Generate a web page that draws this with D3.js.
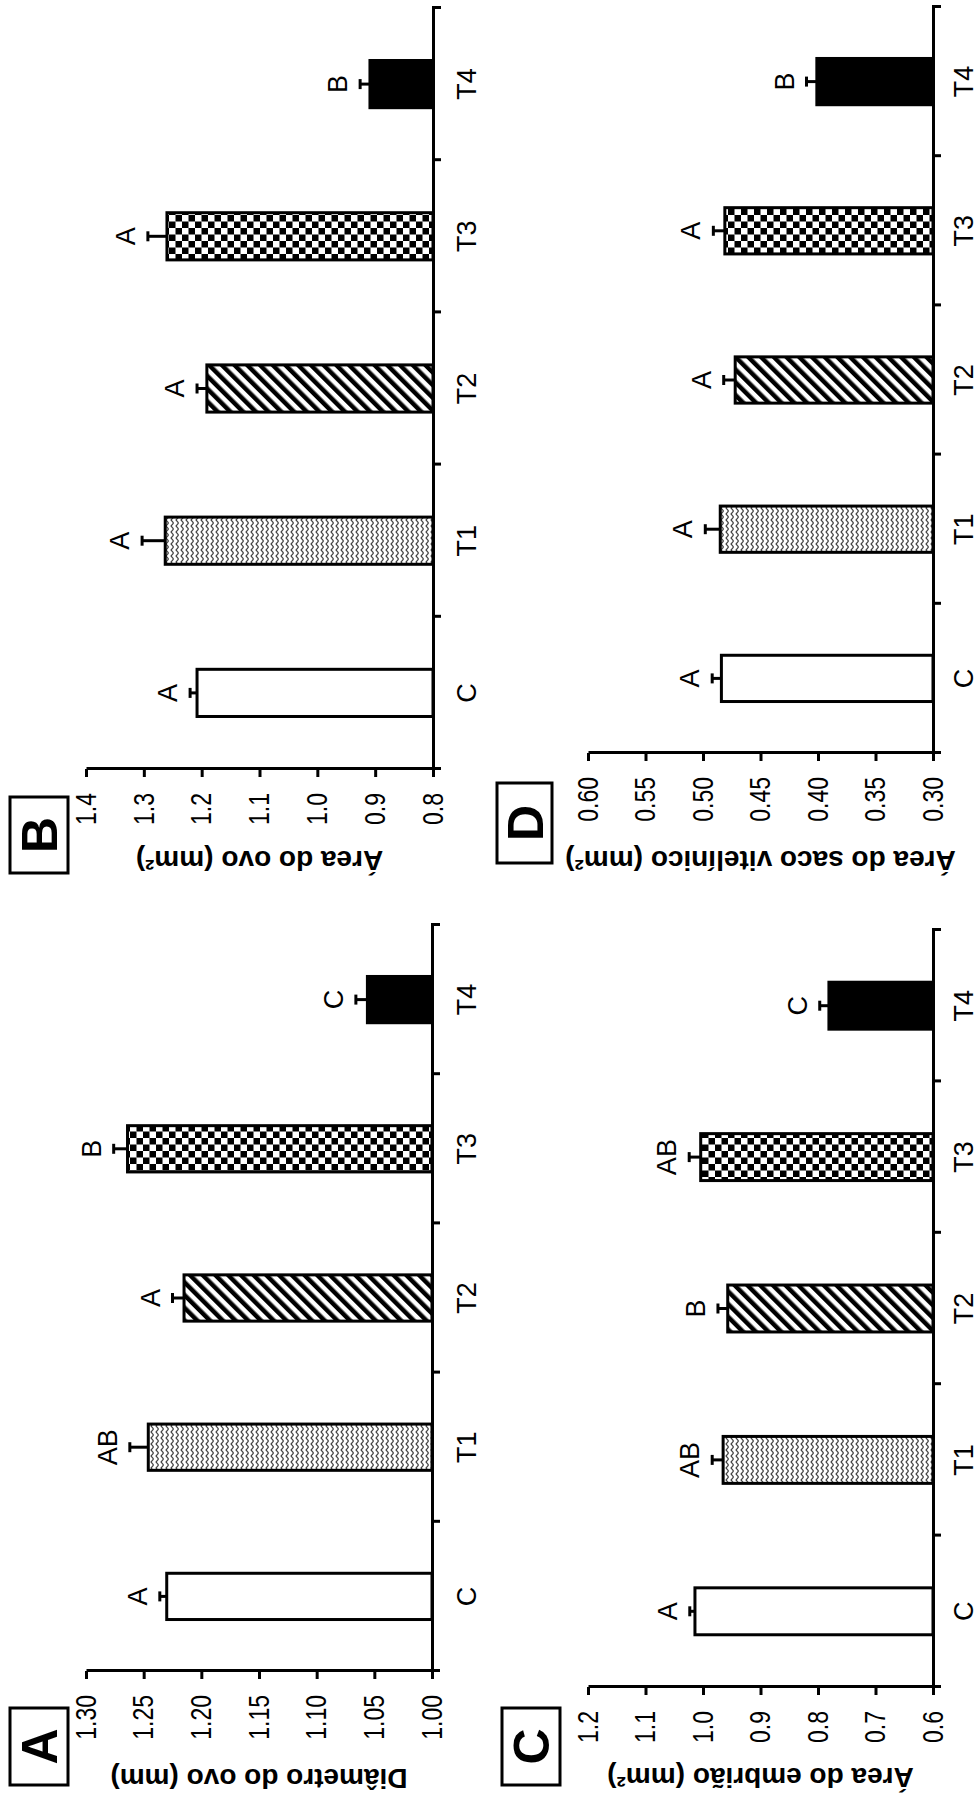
<!doctype html>
<head>
    <meta charset="utf-8">
    <title>Ovo, embrião e saco vitelínico</title>
    <script src="https://d3js.org/d3.v7.min.js"></script>
    <style>
        body {margin:0; background:#fff;}
        svg {display:block;}
        text {font-family:"Liberation Sans", Arial, Helvetica, sans-serif; fill:#000;}
        .axis path, .axis line {stroke:#000; stroke-width:3px;}
        .axis text {font-size:23px;}
        .title {font-size:28px; font-weight:bold;}
        .letter {font-size:27px;}
        .cat {font-size:27px;}
        .panel-id {font-size:50px; font-weight:bold;}
    </style>
</head>
<body>
    <script>
        "use strict";
        // data
        var categories = ["C", "T1", "T2", "T3", "T4"];

        var diametroMean = [1.230, 1.246, 1.215, 1.264, 1.056];
        var diametroSe = [0.006, 0.016, 0.010, 0.012, 0.010];
        var diametroLetters = ["A", "AB", "A", "B", "C"];
        var diametroTicks = [1.00, 1.05, 1.10, 1.15, 1.20, 1.25, 1.30];

        var ovoMean = [1.208, 1.263, 1.191, 1.260, 0.909];
        var ovoSe = [0.012, 0.040, 0.017, 0.033, 0.017];
        var ovoLetters = ["A", "A", "A", "A", "B"];
        var ovoTicks = [0.8, 0.9, 1.0, 1.1, 1.2, 1.3, 1.4];

        var embriaoMean = [1.014, 0.965, 0.957, 1.004, 0.781];
        var embriaoSe = [0.009, 0.019, 0.017, 0.020, 0.016];
        var embriaoLetters = ["A", "AB", "B", "AB", "C"];
        var embriaoTicks = [0.6, 0.7, 0.8, 0.9, 1.0, 1.1, 1.2];

        var sacoMean = [0.484, 0.485, 0.472, 0.481, 0.401];
        var sacoSe = [0.008, 0.013, 0.010, 0.010, 0.009];
        var sacoLetters = ["A", "A", "A", "A", "B"];
        var sacoTicks = [0.30, 0.35, 0.40, 0.45, 0.50, 0.55, 0.60];

        var fills = ["#fff", "url(#zig)", "url(#hatch)", "url(#check)", "#000"];

        // the whole figure is drawn landscape and then turned a quarter left
        var W = 1801, H = 980;
        var svg = d3.select("body").append("svg")
            .attr("width", H)
            .attr("height", W);

        var defs = svg.append("defs");

        var zig = defs.append("pattern").attr("id", "zig")
            .attr("patternUnits", "userSpaceOnUse").attr("width", 6).attr("height", 5);
        zig.append("rect").attr("width", 6).attr("height", 5).attr("fill", "#fff");
        zig.append("path").attr("d", "M0,3.5 L3,1 L6,3.5")
            .attr("fill", "none").attr("stroke", "#444").attr("stroke-width", 1.3);

        var hatch = defs.append("pattern").attr("id", "hatch")
            .attr("patternUnits", "userSpaceOnUse").attr("width", 9).attr("height", 9)
            .attr("patternTransform", "rotate(45)");
        hatch.append("rect").attr("width", 9).attr("height", 9).attr("fill", "#fff");
        hatch.append("rect").attr("width", 4.5).attr("height", 9).attr("fill", "#000");

        var check = defs.append("pattern").attr("id", "check")
            .attr("patternUnits", "userSpaceOnUse").attr("width", 13).attr("height", 13);
        check.append("rect").attr("width", 13).attr("height", 13).attr("fill", "#fff");
        check.append("rect").attr("width", 6.5).attr("height", 6.5).attr("fill", "#000");
        check.append("rect").attr("x", 6.5).attr("y", 6.5).attr("width", 6.5).attr("height", 6.5).attr("fill", "#000");

        var root = svg.append("g")
            .attr("transform", "translate(0," + W + ") rotate(-90)");

        var panels = [
            {id: "A", mean: diametroMean, se: diametroSe, letters: diametroLetters, ticks: diametroTicks, fmt: ".2f",
             title: "Diâmetro do ovo (mm)", u0: 130, u1: 876, vTop: 86, vBot: 432, catY: 476, titleX: 32, box: [16, 10, 77, 58]},
            {id: "B", mean: ovoMean, se: ovoSe, letters: ovoLetters, ticks: ovoTicks, fmt: ".1f",
             title: "Área do ovo (mm²)", u0: 1032, u1: 1793, vTop: 86, vBot: 433, catY: 476, titleX: 950, box: [928, 10, 76, 58]},
            {id: "C", mean: embriaoMean, se: embriaoSe, letters: embriaoLetters, ticks: embriaoTicks, fmt: ".1f",
             title: "Área do embrião (mm²)", u0: 114, u1: 871, vTop: 588, vBot: 933, catY: 973, titleX: 33, box: [16, 502, 77, 58]},
            {id: "D", mean: sacoMean, se: sacoSe, letters: sacoLetters, ticks: sacoTicks, fmt: ".2f",
             title: "Área do saco vitelínico (mm²)", u0: 1048, u1: 1794, vTop: 588, vBot: 933, catY: 973, titleX: 950, box: [938, 497, 80, 55]}
        ];

        function drawPanel(p) {
            var g = root.append("g");
            var rows = categories.map(function(c, i) {
                return {cat: c, mean: p.mean[i], se: p.se[i], letter: p.letters[i], fill: fills[i]};
            });

            var x = d3.scaleBand().domain(categories).range([p.u0, p.u1])
                .paddingInner(0.69).paddingOuter(0.345);
            var y = d3.scaleLinear().domain([p.ticks[0], p.ticks[p.ticks.length - 1]])
                .range([p.vBot, p.vTop]);
            var cx = function(d) { return x(d.cat) + x.bandwidth() / 2; };

            g.selectAll("rect.bar").data(rows).enter().append("rect")
                .attr("class", "bar")
                .attr("x", function(d) { return x(d.cat); })
                .attr("y", function(d) { return y(d.mean); })
                .attr("width", x.bandwidth())
                .attr("height", function(d) { return p.vBot - y(d.mean); })
                .attr("fill", function(d) { return d.fill; })
                .attr("stroke", "#000")
                .attr("stroke-width", 3);

            // one sided error bars
            g.selectAll("line.err").data(rows).enter().append("line")
                .attr("class", "err")
                .attr("x1", cx).attr("x2", cx)
                .attr("y1", function(d) { return y(d.mean); })
                .attr("y2", function(d) { return y(d.mean + d.se); })
                .attr("stroke", "#000").attr("stroke-width", 3);
            g.selectAll("line.cap").data(rows).enter().append("line")
                .attr("class", "cap")
                .attr("x1", function(d) { return cx(d) - 5; })
                .attr("x2", function(d) { return cx(d) + 5; })
                .attr("y1", function(d) { return y(d.mean + d.se); })
                .attr("y2", function(d) { return y(d.mean + d.se); })
                .attr("stroke", "#000").attr("stroke-width", 3);

            g.selectAll("text.letter").data(rows).enter().append("text")
                .attr("class", "letter")
                .attr("text-anchor", "middle")
                .attr("x", cx)
                .attr("y", function(d) { return y(d.mean + d.se) - 13; })
                .text(function(d) { return d.letter; });

            // value axis
            var yAxis = g.append("g").attr("class", "axis")
                .attr("transform", "translate(" + p.u0 + ",0)")
                .call(d3.axisLeft(y).tickValues(p.ticks).tickSize(8).tickSizeOuter(0)
                    .tickPadding(16).tickFormat(d3.format(p.fmt)));
            yAxis.selectAll("text").attr("transform", "scale(1,1.25)");

            // category axis, ticks sit between the groups
            var xb = d3.scaleLinear().domain([0, categories.length]).range([p.u0, p.u1]);
            g.append("g").attr("class", "axis")
                .attr("transform", "translate(0," + p.vBot + ")")
                .call(d3.axisBottom(xb).tickValues(d3.range(1, categories.length))
                    .tickSize(8).tickSizeOuter(8).tickFormat(""));

            g.selectAll("text.cat").data(rows).enter().append("text")
                .attr("class", "cat")
                .attr("text-anchor", "middle")
                .attr("x", cx)
                .attr("y", p.catY)
                .text(function(d) { return d.cat; });

            g.append("text")
                .attr("class", "title")
                .attr("text-anchor", "middle")
                .attr("transform", "translate(" + p.titleX + "," + ((p.vTop + p.vBot) / 2) + ") rotate(-90)")
                .text(p.title);

            g.append("rect")
                .attr("x", p.box[0]).attr("y", p.box[1])
                .attr("width", p.box[2]).attr("height", p.box[3])
                .attr("fill", "none").attr("stroke", "#000").attr("stroke-width", 3);
            g.append("text")
                .attr("class", "panel-id")
                .attr("text-anchor", "middle")
                .attr("x", p.box[0] + p.box[2] / 2)
                .attr("y", p.box[1] + p.box[3] / 2 + 18)
                .text(p.id);
        }

        panels.forEach(drawPanel);
    </script>
</body>
</html>
